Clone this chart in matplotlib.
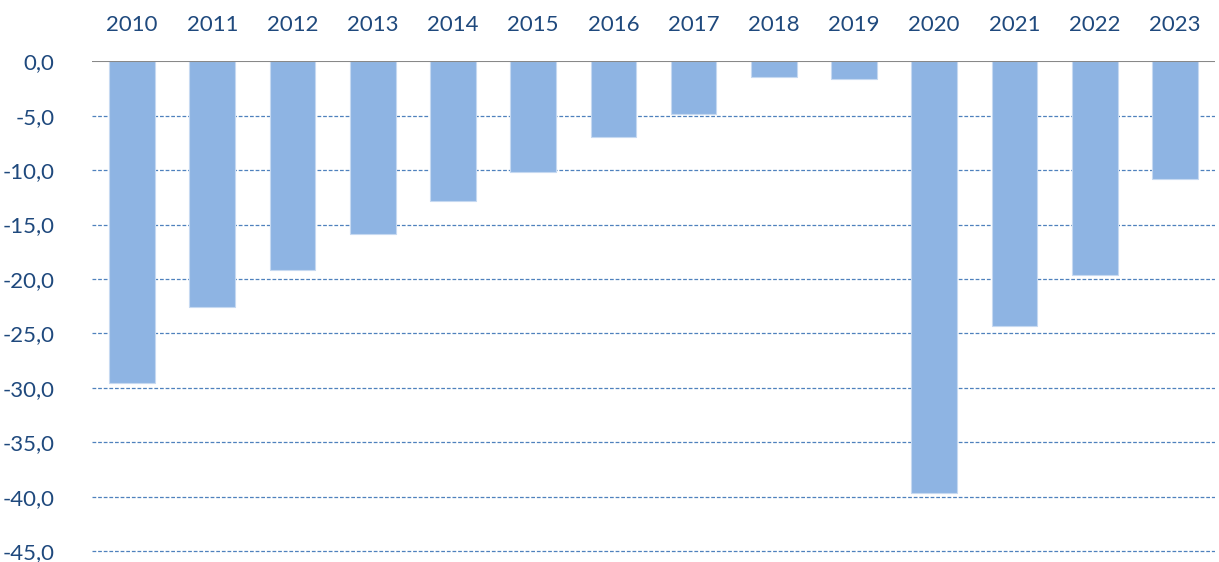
import matplotlib
matplotlib.use("Agg")
import matplotlib.pyplot as plt

years = ["2010", "2011", "2012", "2013", "2014", "2015", "2016",
         "2017", "2018", "2019", "2020", "2021", "2022", "2023"]
values = [-29.6, -22.6, -19.2, -15.9, -12.8, -10.2, -7.0,
          -4.8, -1.4, -1.6, -39.7, -24.3, -19.6, -10.8]
yticks = [0, -5, -10, -15, -20, -25, -30, -35, -40, -45]

plt.rcParams['font.family'] = ['Lato', 'DejaVu Sans']
label_color = '#1F497D'

fig = plt.figure(figsize=(12.19, 5.62), dpi=100)
ax = fig.add_axes([0.0755, 0.0137, 0.9212, 0.8772])

x = list(range(len(years)))
ax.bar(x, values, width=0.57, color='#8EB4E3', edgecolor='#C6D9F1',
       linewidth=0.8, zorder=3)

ax.set_xlim(-0.5, len(years) - 0.5)
ax.set_ylim(-45.3, 0)
ax.set_yticks(yticks)
ax.set_yticklabels([f"{v:.1f}".replace('.', ',') for v in yticks],
                   fontsize=16, color=label_color)
ax.set_xticks(x)
ax.set_xticklabels(years, fontsize=16, color=label_color)
ax.xaxis.tick_top()
ax.tick_params(axis='both', length=0)
ax.tick_params(axis='x', pad=19)
ax.tick_params(axis='y', pad=27)

for s in ax.spines.values():
    s.set_visible(False)

for v in yticks[1:]:
    ax.axhline(v, color='#4F81BD', linewidth=0.9, linestyle=(0, (3, 1.5)),
               zorder=1)
ax.axhline(0, color='#888888', linewidth=1.5, zorder=4)

fig.savefig("out.png", dpi=100)
